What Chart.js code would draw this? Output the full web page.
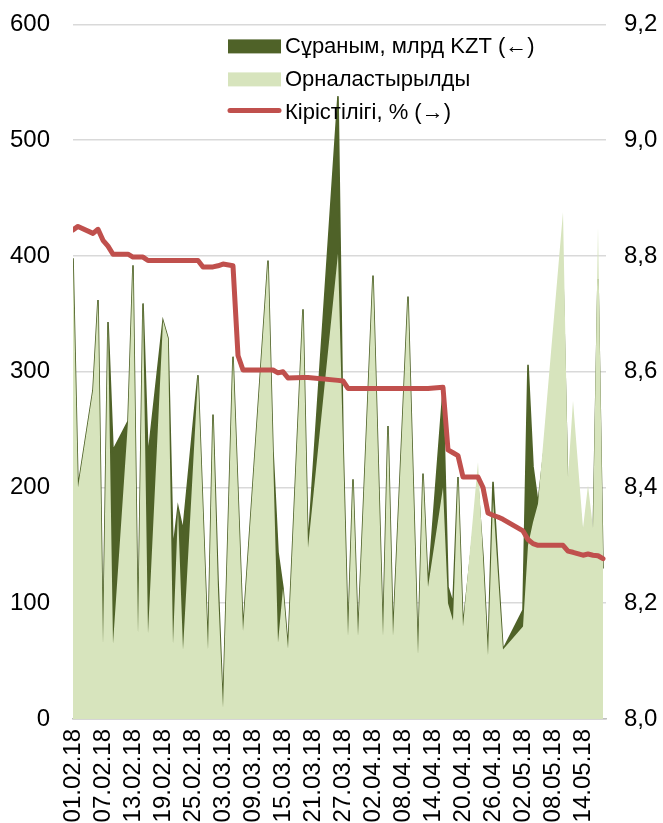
<!DOCTYPE html>
<html>
<head>
<meta charset="utf-8">
<script src="https://cdn.jsdelivr.net/npm/chart.js@4.4.1/dist/chart.umd.min.js"></script>
<style>
  html, body { margin: 0; padding: 0; background: #fff; overflow: hidden; }
  #wrap { width: 663px; height: 836px; position: relative; margin-top: -13px; }
</style>
</head>
<body>
<div id="wrap"><canvas id="bondChart"></canvas></div>
<script>
// auction days
var dates = ['01.02.18','02.02.18','05.02.18','06.02.18','07.02.18','08.02.18','09.02.18',
  '12.02.18','13.02.18','14.02.18','15.02.18','16.02.18','19.02.18','20.02.18','21.02.18',
  '22.02.18','23.02.18','26.02.18','27.02.18','28.02.18','01.03.18','02.03.18','03.03.18',
  '05.03.18','06.03.18','07.03.18','12.03.18','13.03.18','14.03.18','15.03.18','16.03.18',
  '19.03.18','20.03.18','26.03.18','27.03.18','28.03.18','29.03.18','30.03.18','02.04.18',
  '03.04.18','04.04.18','05.04.18','06.04.18','09.04.18','10.04.18','11.04.18','12.04.18',
  '13.04.18','16.04.18','17.04.18','18.04.18','19.04.18','20.04.18','23.04.18','24.04.18',
  '25.04.18','26.04.18','27.04.18','28.04.18','02.05.18','03.05.18','04.05.18','05.05.18',
  '08.05.18','10.05.18','11.05.18','12.05.18','14.05.18','15.05.18','16.05.18','17.05.18',
  '18.05.18'];

// demand, bn KZT
var demand = [398,200,284,362,65,343,232,
  257,392,74,359,226,344,329,146,
  183,163,297,178,60,263,120,10,
  313,195,76,396,231,144,113,61,
  354,148,538,240,72,207,72,383,
  228,72,253,72,365,210,56,212,
  114,283,114,100,209,80,200,140,
  55,205,130,60,94,306,218,186,
  300,380,190,250,150,180,150,380,
  130];

// placed, bn KZT
var placed = [395,200,284,362,65,343,65,
  257,392,74,359,74,344,329,65,
  181,60,297,178,60,263,112,10,
  313,195,76,396,231,66,113,61,
  354,148,402,237,72,207,72,383,
  228,72,253,72,365,210,56,212,
  114,200,100,85,209,80,222,140,
  55,190,125,60,80,150,170,186,
  337,438,209,275,165,202,165,425,
  145];

// yield, %
var yieldPct = [8.845,8.851,8.839,8.846,8.827,8.817,8.803,
  8.803,8.798,8.798,8.798,8.792,8.792,8.792,8.792,
  8.792,8.792,8.792,8.781,8.781,8.781,8.783,8.786,
  8.783,8.628,8.603,8.603,8.603,8.598,8.600,8.589,
  8.590,8.590,8.585,8.584,8.571,8.571,8.571,8.571,
  8.571,8.571,8.571,8.571,8.571,8.571,8.571,8.571,
  8.571,8.573,8.465,8.460,8.455,8.418,8.418,8.400,
  8.356,8.352,8.349,8.345,8.325,8.310,8.303,8.300,
  8.300,8.300,8.290,8.288,8.283,8.285,8.283,8.282,
  8.277];

var xTickLabels = ['01.02.18','07.02.18','13.02.18','19.02.18','25.02.18','03.03.18',
  '09.03.18','15.03.18','21.03.18','27.03.18','02.04.18','08.04.18','14.04.18',
  '20.04.18','26.04.18','02.05.18','08.05.18','14.05.18'];

var seriesNames = ['Сұраным, млрд KZT (←)', 'Орналастырылды', 'Кірістілігі, % (→)'];

var startDay = Date.UTC(2018, 1, 1);
function dayOf(s) {
  var p = s.split('.');
  return Math.round((Date.UTC(2000 + (+p[2]), +p[1] - 1, +p[0]) - startDay) / 86400000);
}
function points(values) {
  return values.map(function (v, i) { return { x: dayOf(dates[i]), y: v }; });
}

var darkGreen = '#4F6228', lightGreen = '#D7E4BD', red = '#C0504D';
var fontFamily = '"Liberation Sans", Arial, sans-serif';

Chart.defaults.font.family = fontFamily;
Chart.defaults.font.size = 24;
Chart.defaults.color = '#000';

// legend drawn inside the plot, like the original
var boxLegend = {
  id: 'boxLegend',
  afterDatasetsDraw: function (chart) {
    var ctx = chart.ctx, a = chart.chartArea;
    var x0 = a.left + 155, y0 = a.top + 22, row = 33;
    ctx.save();
    ctx.font = '22px ' + fontFamily;
    ctx.textBaseline = 'middle';
    ctx.fillStyle = darkGreen;
    ctx.fillRect(x0, y0 - 7, 53, 14);
    ctx.fillStyle = lightGreen;
    ctx.fillRect(x0, y0 + row - 7, 53, 14);
    ctx.strokeStyle = red;
    ctx.lineWidth = 5;
    ctx.lineCap = 'round';
    ctx.beginPath();
    ctx.moveTo(x0 + 2, y0 + 2 * row - 2);
    ctx.lineTo(x0 + 51, y0 + 2 * row - 2);
    ctx.stroke();
    ctx.fillStyle = '#000';
    for (var i = 0; i < 3; i++) {
      ctx.fillText(seriesNames[i], x0 + 57, y0 + i * row + 1);
    }
    ctx.restore();
  }
};

var ctx = document.getElementById('bondChart').getContext('2d');
var bondChart = new Chart(ctx, {
  type: 'line',
  data: {
    datasets: [{
      label: seriesNames[2],
      data: points(yieldPct),
      yAxisID: 'y1',
      borderColor: red,
      borderWidth: 5,
      borderCapStyle: 'round',
      borderJoinStyle: 'round',
      pointRadius: 0,
      fill: false,
      order: 0
    }, {
      label: seriesNames[1],
      data: points(placed),
      yAxisID: 'y',
      backgroundColor: lightGreen,
      borderWidth: 0,
      pointRadius: 0,
      fill: 'origin',
      order: 1
    }, {
      label: seriesNames[0],
      data: points(demand),
      yAxisID: 'y',
      backgroundColor: darkGreen,
      borderColor: darkGreen,
      borderWidth: 1.6,
      pointRadius: 0,
      fill: 'origin',
      order: 2
    }]
  },
  options: {
    responsive: true,
    maintainAspectRatio: false,
    animation: false,
    layout: { padding: { top: 10, left: 0, right: 0, bottom: 0 } },
    plugins: { legend: { display: false }, tooltip: { enabled: false } },
    scales: {
      x: {
        type: 'linear',
        min: 0,
        max: 106.6,
        grid: { display: false, drawTicks: false },
        border: { display: true, color: '#BFBFBF', width: 1.5 },
        ticks: {
          stepSize: 6,
          includeBounds: false,
          autoSkip: false,
          maxTicksLimit: 40,
          minRotation: 90,
          maxRotation: 90,
          padding: 10,
          callback: function (v) { return xTickLabels[Math.round(v / 6)]; }
        },
        afterFit: function (s) { s.height = 104; }
      },
      y: {
        position: 'left',
        min: 0,
        max: 600,
        grid: { color: '#D9D9D9', lineWidth: 1.5, drawTicks: false },
        border: { display: false },
        ticks: { stepSize: 100, padding: 23 },
        afterFit: function (s) { s.width = 73; }
      },
      y1: {
        position: 'right',
        min: 8.0,
        max: 9.2,
        grid: { display: false, drawTicks: false },
        border: { display: false },
        ticks: {
          stepSize: 0.2,
          padding: 18,
          callback: function (v) { return v.toFixed(1).replace('.', ','); }
        },
        afterFit: function (s) { s.width = 57; }
      }
    }
  },
  plugins: [boxLegend]
});
</script>
</body>
</html>
